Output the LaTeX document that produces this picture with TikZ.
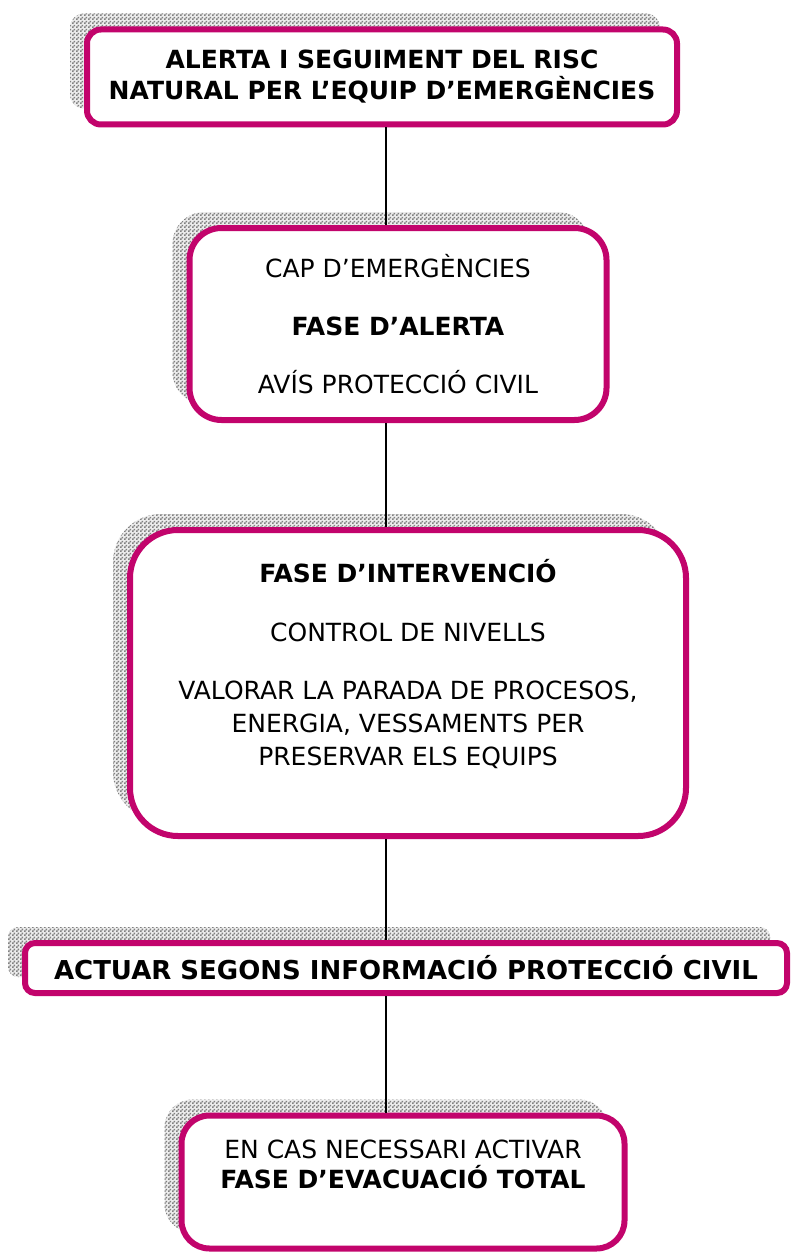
\documentclass[tikz,border=0pt]{standalone}
\usepackage{fontspec}
\setmainfont{DejaVu Sans}
\usetikzlibrary{shadows,patterns}
\definecolor{risc}{RGB}{194,4,108}
\pgfdeclarepatternformonly{checker}{\pgfpointorigin}{\pgfqpoint{4pt}{4pt}}{\pgfqpoint{4pt}{4pt}}{%
  \pgfpathrectangle{\pgfpointorigin}{\pgfqpoint{2pt}{2pt}}%
  \pgfpathrectangle{\pgfqpoint{2pt}{2pt}}{\pgfqpoint{2pt}{2pt}}%
  \pgfusepath{fill}}

\begin{document}
\begin{tikzpicture}[
  x=1pt,y=-1pt,
  every node/.style={font=\fontsize{25}{33}\selectfont,align=center},
  box/.style={draw=risc,line width=6pt,fill=white,
    general shadow={shadow xshift=-17pt,shadow yshift=16pt,fill=gray!15},
    general shadow={shadow xshift=-17pt,shadow yshift=16pt,pattern=checker,pattern color=black!50}},
  txt/.style={inner sep=0pt},
  link/.style={line width=1.8pt}
]
\useasboundingbox (0,0) rectangle (795,1252);
\coordinate (spine) at (386,0);
% boxes
\node[box,rounded corners=14pt,minimum width=590pt,minimum height=95pt] (alerta) at (382,77) {};
\node[box,rounded corners=32pt,minimum width=417pt,minimum height=192pt] (cap) at (398,324) {};
\node[box,rounded corners=48pt,minimum width=556pt,minimum height=306pt] (intervencio) at (408,683) {};
\node[box,rounded corners=10pt,minimum width=762pt,minimum height=50pt] (actuar) at (406,968) {};
\node[box,rounded corners=28pt,minimum width=443pt,minimum height=133pt] (evacuacio) at (403,1182) {};
% texts
\node[txt] (alertatxt) at (alerta) {\textbf{ALERTA I SEGUIMENT DEL RISC}\\[-2pt]\textbf{NATURAL PER L’EQUIP D’EMERGÈNCIES}};
\node[txt] (captxt) at (cap) {CAP D’EMERGÈNCIES\\[25pt]\textbf{FASE D’ALERTA}\\[25pt]AVÍS PROTECCIÓ CIVIL};
\node[txt] (intervenciotxt) at ([yshift=19pt]intervencio.center) {\textbf{FASE D’INTERVENCIÓ}\\[26pt]CONTROL DE NIVELLS\\[25pt]VALORAR LA PARADA DE PROCESOS,\\ENERGIA, VESSAMENTS PER\\PRESERVAR ELS EQUIPS};
\node[txt,font=\fontsize{26}{33}\selectfont] (actuartxt) at (actuar) {\textbf{ACTUAR SEGONS INFORMACIÓ PROTECCIÓ CIVIL}};
\node[txt] (evacuaciotxt) at ([yshift=18pt]evacuacio.center) {EN CAS NECESSARI ACTIVAR\\[-3pt]\textbf{FASE D’EVACUACIÓ TOTAL}};
% connectors
\draw[link] (alerta.south -| spine) -- (cap.north -| spine);
\draw[link] (cap.south -| spine) -- (intervencio.north -| spine);
\draw[link] (intervencio.south -| spine) -- (actuar.north -| spine);
\draw[link] (actuar.south -| spine) -- (evacuacio.north -| spine);
\end{tikzpicture}
\end{document}
